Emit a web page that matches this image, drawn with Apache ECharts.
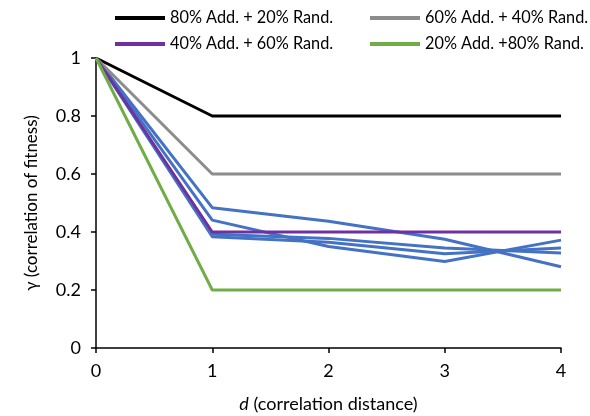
<!DOCTYPE html>
<html>
<head>
<meta charset="utf-8">
<script src="https://cdn.jsdelivr.net/npm/echarts@6/dist/echarts.min.js"></script>
<style>
  html, body { margin: 0; padding: 0; background: #fff; }
  #chart { width: 590px; height: 416px; }
</style>
</head>
<body>
<div id="chart"></div>
<script>
// Correlation distance d on the x axis
const distances = [0, 1, 2, 3, 4];

// Mixed additive + random landscapes (reference curves)
const add80 = [1, 0.8, 0.8, 0.8, 0.8];
const add60 = [1, 0.6, 0.6, 0.6, 0.6];
const add40 = [1, 0.4, 0.4, 0.4, 0.4];
const add20 = [1, 0.2, 0.2, 0.2, 0.2];

// Measured correlation curves
const runA = [1, 0.484, 0.437, 0.375, 0.28];
const runB = [1, 0.441, 0.35, 0.298, 0.372];
const runC = [1, 0.392, 0.378, 0.345, 0.328];
const runD = [1, 0.384, 0.365, 0.325, 0.345];

const yTicks = [0, 0.2, 0.4, 0.6, 0.8, 1];

const names = ['80% Add. + 20% Rand.', '60% Add. + 40% Rand.', '40% Add. + 60% Rand.', '20% Add. +80% Rand.'];
const colors = ['#000000', '#8c8c8c', '#7030a0', '#70ad47'];
const blue = '#4472c4';

const FONT = 'Lato, "Open Sans", sans-serif';

function pairs(vals) { return vals.map((v, i) => [distances[i], v]); }

function lineSeries(name, vals, color, z) {
  return {
    name: name, type: 'line', data: pairs(vals),
    symbol: 'none', lineStyle: { color: color, width: 3 }, itemStyle: { color: color },
    z: z, animation: false, silent: true
  };
}

const legendPos = [
  { left: 110, top: 5 },
  { left: 365, top: 5 },
  { left: 110, top: 31 },
  { left: 365, top: 31 }
];

const chart = echarts.init(document.getElementById('chart'));
chart.setOption({
  backgroundColor: '#fff',
  animation: false,
  grid: { left: 96, right: 29, top: 58, bottom: 68, containLabel: false, outerBoundsMode: 'none' },
  legend: names.map((n, i) => ({
    data: [n], left: legendPos[i].left, top: legendPos[i].top,
    icon: 'rect', itemWidth: 50, itemHeight: 4, itemGap: 5, padding: 5,
    textStyle: { fontFamily: FONT, fontSize: 16.3, color: '#000', overflow: 'none' },
    selectedMode: false
  })),
  xAxis: {
    type: 'value', min: 0, max: 4, interval: 1,
    axisLine: { lineStyle: { color: '#000', width: 1.5 } },
    axisTick: { show: true, length: 5, lineStyle: { color: '#000', width: 1.5 } },
    axisLabel: { fontFamily: FONT, fontSize: 18, color: '#000', margin: 14 },
    splitLine: { show: false },
    name: '{i|d} (correlation distance)',
    nameLocation: 'middle', nameGap: 47,
    nameTextStyle: {
      fontFamily: FONT, fontSize: 18, color: '#000',
      rich: { i: { fontFamily: FONT, fontSize: 18, fontStyle: 'italic', color: '#000' } }
    }
  },
  yAxis: {
    type: 'value', min: yTicks[0], max: yTicks[yTicks.length - 1], interval: 0.2,
    axisLine: { show: true, lineStyle: { color: '#000', width: 1.5 } },
    axisTick: { show: true, length: 5, lineStyle: { color: '#000', width: 1.5 } },
    axisLabel: { fontFamily: FONT, fontSize: 18, color: '#000', margin: 15 },
    splitLine: { show: false },
    name: 'γ (correlation of fitness)',
    nameLocation: 'middle', nameGap: 56, nameRotate: 90,
    nameTextStyle: { fontFamily: FONT, fontSize: 17, color: '#000' }
  },
  series: [
    lineSeries('runA', runA, blue, 2),
    lineSeries('runB', runB, blue, 2),
    lineSeries('runC', runC, blue, 2),
    lineSeries('runD', runD, blue, 2),
    lineSeries(names[0], add80, colors[0], 3),
    lineSeries(names[1], add60, colors[1], 3),
    lineSeries(names[2], add40, colors[2], 3),
    lineSeries(names[3], add20, colors[3], 3)
  ]
});
</script>
</body>
</html>
